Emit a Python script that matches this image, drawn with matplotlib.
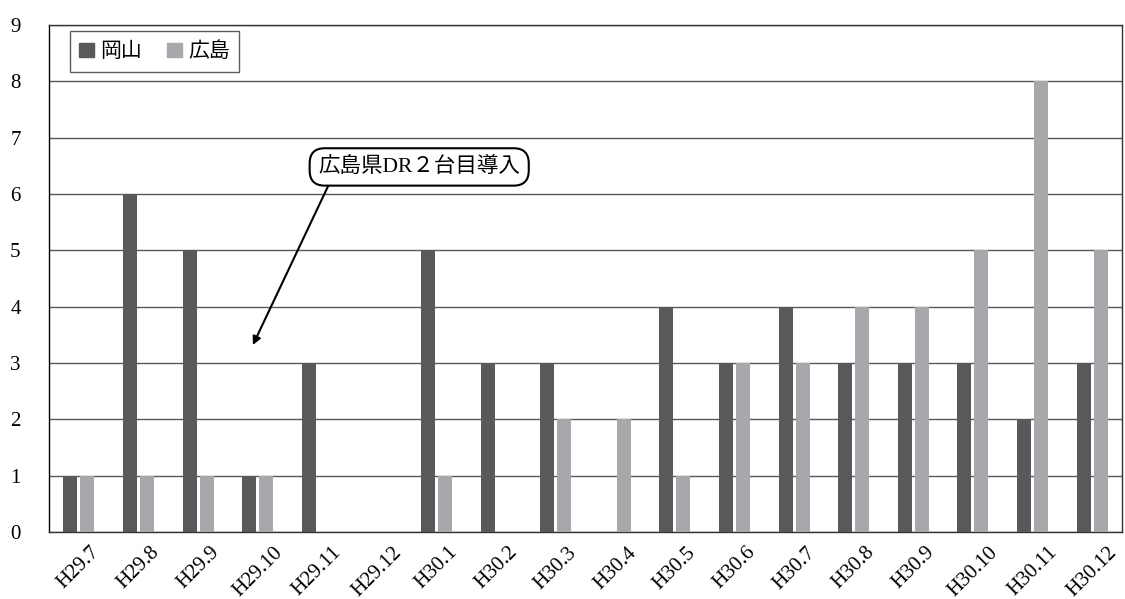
import numpy as np
import matplotlib.pyplot as plt
from matplotlib.patches import Patch

plt.rcParams['font.family'] = ['Liberation Serif', 'Noto Sans CJK JP']

# data
months = ["H29.7", "H29.8", "H29.9", "H29.10", "H29.11", "H29.12",
          "H30.1", "H30.2", "H30.3", "H30.4", "H30.5", "H30.6",
          "H30.7", "H30.8", "H30.9", "H30.10", "H30.11", "H30.12"]
okayama = [1, 6, 5, 1, 3, 0, 5, 3, 3, 0, 4, 3, 4, 3, 3, 3, 2, 3]
hiroshima = [1, 1, 1, 1, 0, 0, 1, 0, 2, 2, 1, 3, 3, 4, 4, 5, 8, 5]

dark = '#58595b'
light = '#a7a8ab'

fig = plt.figure(figsize=(11.25, 5.99), dpi=100)
ax = fig.add_axes([0.0436, 0.1119, 0.9537, 0.8464])

x = np.arange(len(months))
w = 0.235
off = 0.143
ax.bar(x - off, okayama, w, color=dark, zorder=3)
ax.bar(x + off, hiroshima, w, color=light, zorder=3)

ax.set_xlim(-0.5, len(months) - 0.5)
ax.set_ylim(0, 9)
ax.set_yticks(range(10))
ax.yaxis.grid(True, color='#595959', linewidth=1.0, zorder=0)
ax.set_axisbelow(True)

ax.set_xticks(x)
ax.set_xticklabels(months, rotation=45, ha='center', fontsize=15)
ax.tick_params(axis='both', length=0)
ax.tick_params(axis='x', pad=8)
ax.tick_params(axis='y', pad=28, labelsize=15)
for lbl in ax.get_yticklabels():
    lbl.set_horizontalalignment('left')

for s in ax.spines.values():
    s.set_color('#333333')
    s.set_linewidth(1.0)
ax.spines['left'].set_color('black')

handles = [Patch(color=dark, label='岡山'), Patch(color=light, label='広島')]
leg = ax.legend(handles=handles, loc='upper left', bbox_to_anchor=(0.0196, 0.988),
                borderaxespad=0, ncol=2, fancybox=False, fontsize=15,
                handlelength=0.7, handleheight=0.7, handletextpad=0.3,
                columnspacing=1.2, borderpad=0.45)
leg.get_frame().set_edgecolor('#333333')
leg.get_frame().set_linewidth(1.0)
for t in leg.get_texts():
    t.set_family(['Noto Sans CJK JP'])

ax.annotate('広島県DR２台目導入', xy=(2.92, 3.32), xytext=(5.71, 6.48),
            ha='center', va='center', fontsize=15.5,
            bbox=dict(boxstyle='round,pad=0.4,rounding_size=0.7', fc='white', ec='black', lw=1.5),
            arrowprops=dict(arrowstyle='-|>', color='black', lw=1.5, relpos=(0.07, 0),
                            shrinkA=0, shrinkB=0, mutation_scale=12),
            zorder=5)

fig.savefig('out.png', dpi=100)
